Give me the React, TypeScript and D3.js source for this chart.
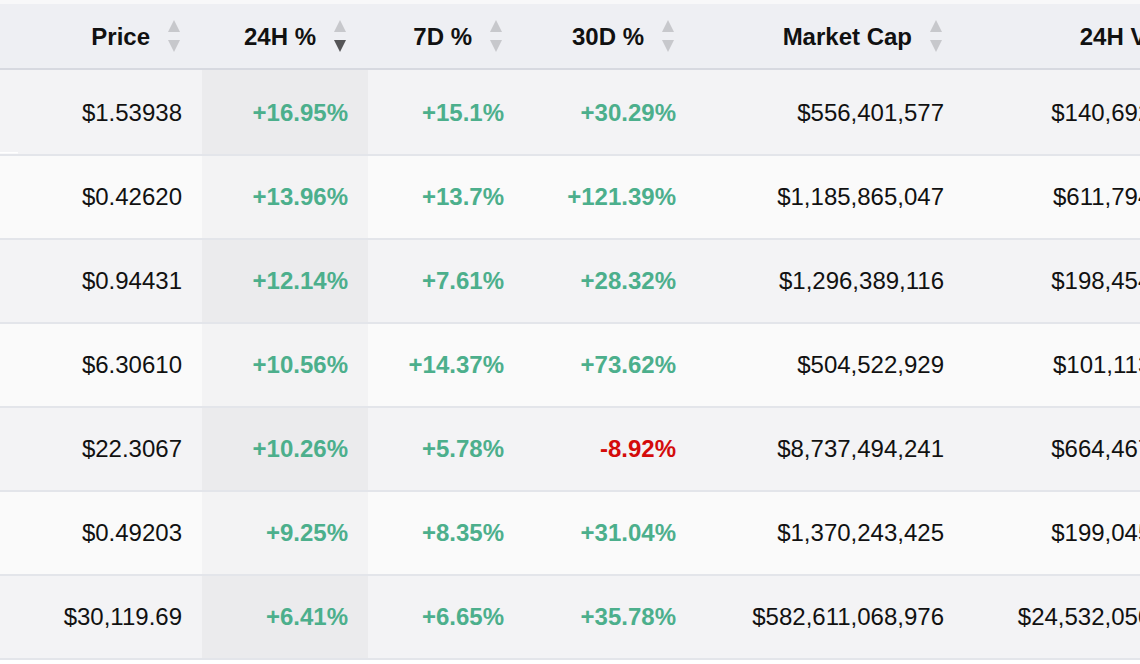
import React from "react";
import * as d3 from "d3";

const headers = ["Price", "24H %", "7D %", "30D %", "Market Cap", "24H Vol"];
const prices = ["$1.53938", "$0.42620", "$0.94431", "$6.30610", "$22.3067", "$0.49203", "$30,119.69"];
const change24h = ["+16.95%", "+13.96%", "+12.14%", "+10.56%", "+10.26%", "+9.25%", "+6.41%"];
const change7d = ["+15.1%", "+13.7%", "+7.61%", "+14.37%", "+5.78%", "+8.35%", "+6.65%"];
const change30d = ["+30.29%", "+121.39%", "+28.32%", "+73.62%", "-8.92%", "+31.04%", "+35.78%"];
const marketCap = ["$556,401,577", "$1,185,865,047", "$1,296,389,116", "$504,522,929", "$8,737,494,241", "$1,370,243,425", "$582,611,068,976"];
const volume24h = ["$140,692,318", "$611,794,205", "$198,454,672", "$101,113,580", "$664,467,931", "$199,045,288", "$24,532,050,417"];

// layout (not data)
const W = 1140;
const H = 664;
const colRights = [202, 368, 524, 696, 964, 1218];
const colLefts = [-200, 202, 368, 524, 696, 964];
const sortedCol = 1;
const FONT = "'Liberation Sans', Arial, Helvetica, sans-serif";
const GREEN = "#4caf8c";
const RED = "#d40b0b";

export default function App() {
  const rowsIdx = d3.range(prices.length);
  const y = d3.scaleBand<number>().domain(rowsIdx).range([70, 658]).paddingInner(0).paddingOuter(0);
  const columns = [prices, change24h, change7d, change30d, marketCap, volume24h];
  const isPct = [false, true, true, true, false, false];

  const colorFor = (v: string, pct: boolean) => {
    if (!pct) return "#111";
    return v.trim().startsWith("-") ? RED : GREEN;
  };

  return (
    <div style={{ position: "fixed", left: 0, top: 0, width: W, height: H, overflow: "hidden", background: "#fff" }}>
      <svg width={W} height={H} style={{ display: "block" }} fontFamily={FONT}>
        {/* top strip */}
        <rect x={0} y={0} width={W} height={4} fill="#f8f8f9" />
        {/* header background */}
        <rect x={0} y={4} width={W} height={64} fill="#eeeff3" />

        {/* rows */}
        {rowsIdx.map((i) => {
          const top = y(i)!;
          const bh = y.bandwidth();
          const odd = i % 2 === 0;
          return (
            <g key={"row" + i}>
              <rect x={0} y={top} width={W} height={bh} fill={odd ? "#f3f3f5" : "#fafafa"} />
              <rect
                x={colLefts[sortedCol]}
                y={top}
                width={colRights[sortedCol] - colLefts[sortedCol]}
                height={bh}
                fill={odd ? "#ebebed" : "#f3f3f4"}
              />
            </g>
          );
        })}
        {/* row borders */}
        {rowsIdx.map((i) => (
          <rect key={"b" + i} x={0} y={y(i)! + y.bandwidth()} width={W} height={2} fill="#e3e5ea" />
        ))}
        <rect x={0} y={68} width={W} height={2} fill="#d7d9e0" />
        <rect x={0} y={y(0)! + y.bandwidth() - 2} width={18} height={1.5} fill="#ffffff" />

        {/* header labels & sort icons */}
        {headers.map((h, c) => {
          const right = colRights[c];
          const cx = right - 28;
          const active = c === sortedCol;
          return (
            <g key={"h" + c}>
              <text
                x={right - 52}
                y={36}
                textAnchor="end"
                dominantBaseline="central"
                fontSize={24}
                fontWeight="bold"
                fill="#111"
              >
                {h}
              </text>
              <path d={`M${cx},20 L${cx + 6},32 L${cx - 6},32 Z`} fill="#c7c8cc" />
              <path d={`M${cx - 6},40 L${cx + 6},40 L${cx},52 Z`} fill={active ? "#555557" : "#c7c8cc"} />
            </g>
          );
        })}

        {/* cells */}
        {columns.map((vals, c) =>
          vals.map((v, i) => (
            <text
              key={"c" + c + "-" + i}
              x={colRights[c] - 20}
              y={y(i)! + y.bandwidth() / 2}
              textAnchor="end"
              dominantBaseline="central"
              fontSize={24}
              fontWeight={isPct[c] ? "bold" : "normal"}
              fill={colorFor(v, isPct[c])}
            >
              {v}
            </text>
          ))
        )}
      </svg>
    </div>
  );
}
